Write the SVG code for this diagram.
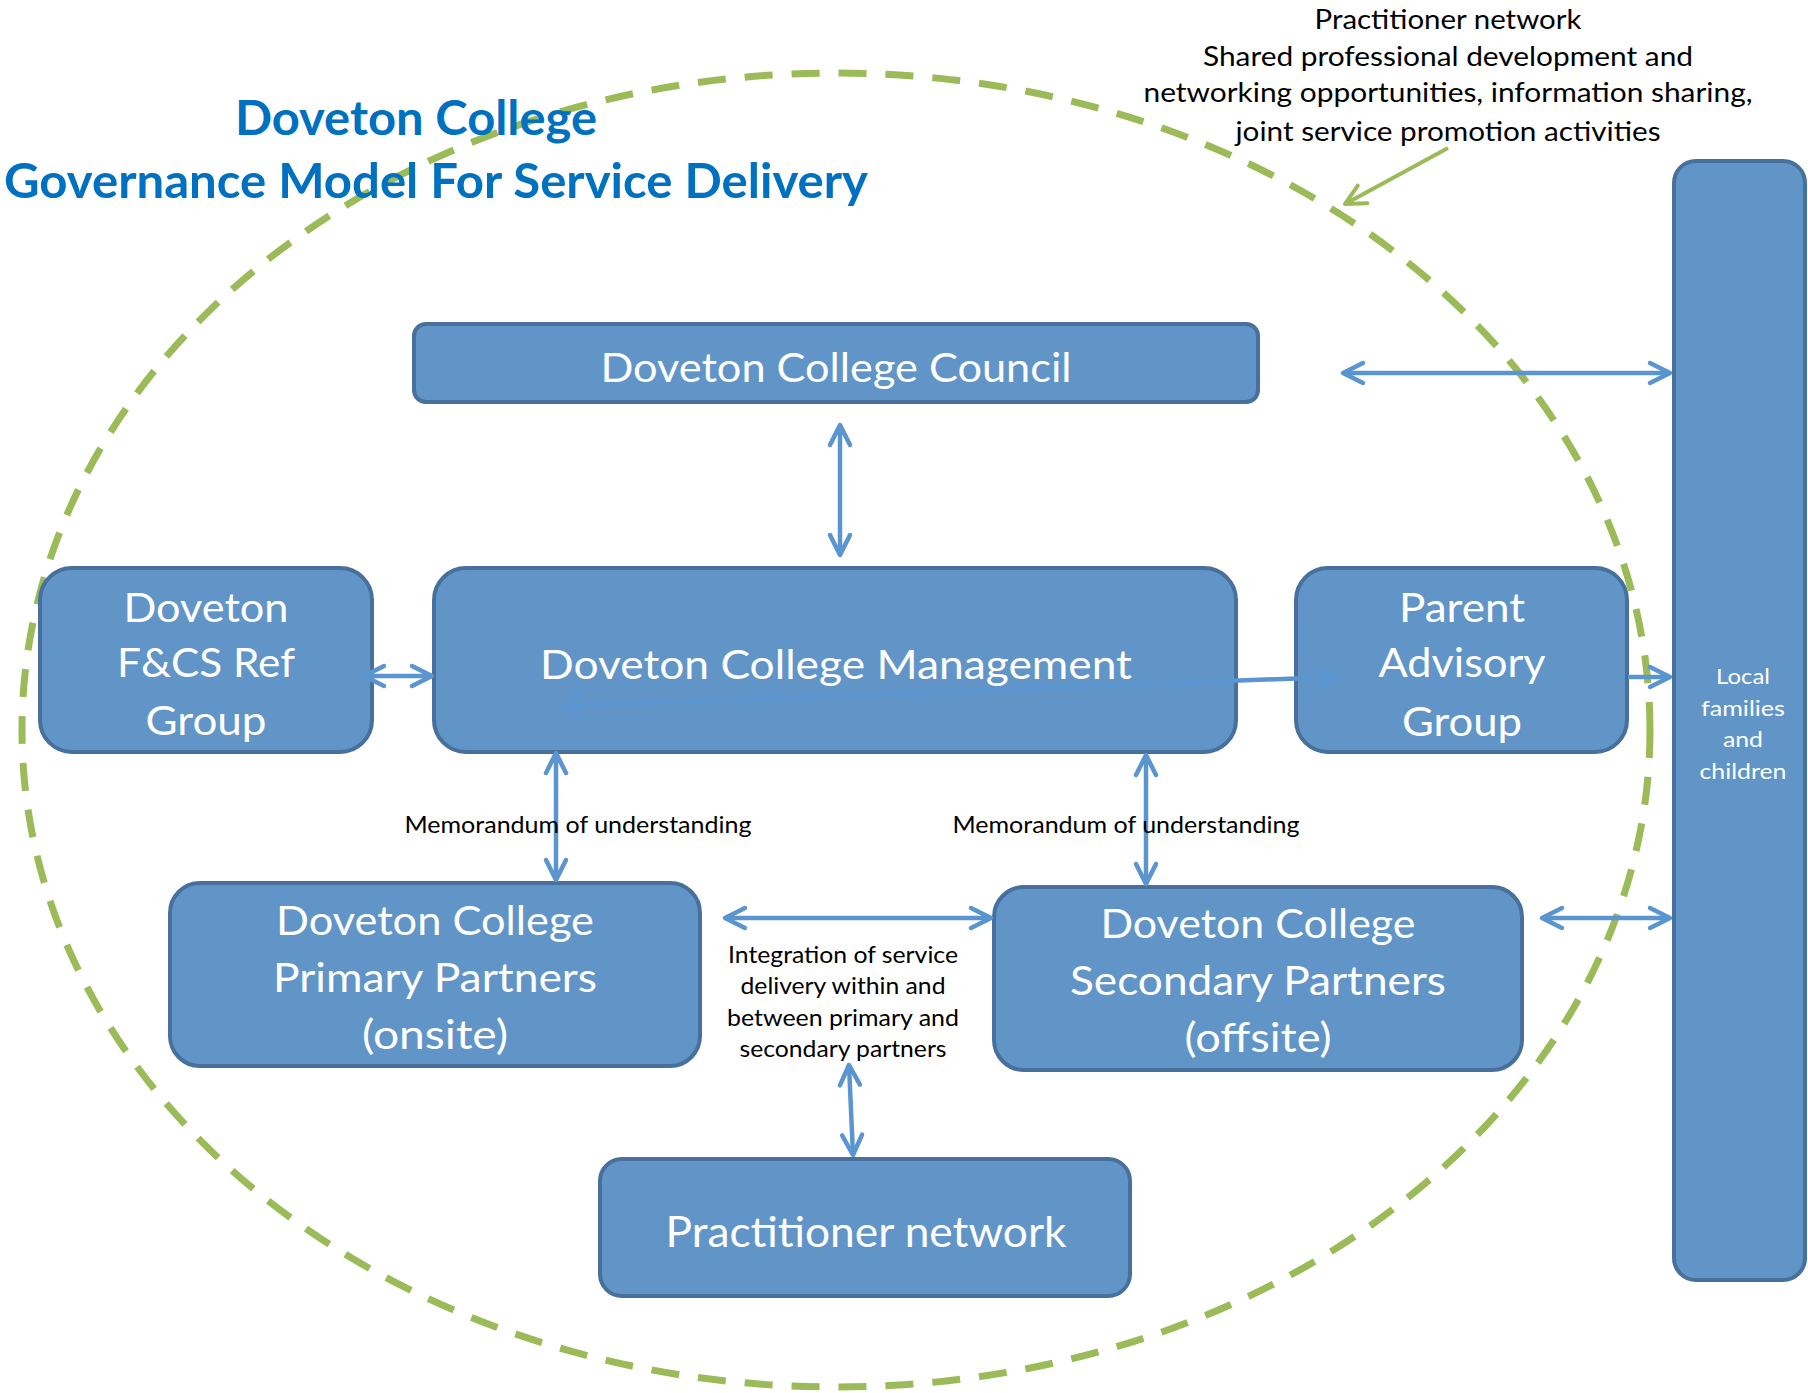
<svg xmlns="http://www.w3.org/2000/svg" width="1808" height="1393" viewBox="0 0 1808 1393">
<style>
.node rect{fill:#6195C8;stroke:#47709C;stroke-width:4}
.nt{font-family:Lato,"Liberation Sans",sans-serif;fill:#fff;text-anchor:middle;font-size:40px}
.lbl{font-family:Lato,"Liberation Sans",sans-serif;fill:#000;text-anchor:middle;font-size:23px}
.ttl{font-family:Lato,"Liberation Sans",sans-serif;fill:#0070C0;text-anchor:middle;font-size:47px;font-weight:bold}
.con{fill:none;stroke:#5B95D0;stroke-width:4.5;marker-start:url(#ah);marker-end:url(#ah)}
</style>
<defs>
<marker id="ah" viewBox="-26 -14 30 28" refX="0" refY="0" markerWidth="30" markerHeight="28" markerUnits="userSpaceOnUse" orient="auto-start-reverse">
<path d="M-20,-10 L0,0 L-20,10" fill="none" stroke="#5B95D0" stroke-width="4.5" stroke-linecap="round" stroke-linejoin="round"/>
</marker>
<marker id="gh" viewBox="-26 -14 30 28" refX="0" refY="0" markerWidth="30" markerHeight="28" markerUnits="userSpaceOnUse" orient="auto">
<path d="M-20,-10 L0,0 L-20,10" fill="none" stroke="#9BBB59" stroke-width="4" stroke-linecap="round" stroke-linejoin="round"/>
</marker>
</defs>
<rect width="1808" height="1393" fill="#fff"/>
<g id="boundary">
<ellipse cx="836" cy="730" rx="814" ry="657" fill="none" stroke="#9BBB59" stroke-width="7" stroke-dasharray="28 19"/>
</g>
<g id="title">
<text class="ttl" x="416" y="135" textLength="362" lengthAdjust="spacingAndGlyphs">Doveton College</text>
<text class="ttl" x="436" y="198" textLength="864" lengthAdjust="spacingAndGlyphs">Governance Model For Service Delivery</text>
</g>
<g id="practitioner-note">
<text class="lbl" style="font-size:27px" x="1448" y="29" textLength="267" lengthAdjust="spacingAndGlyphs">Practitioner network</text>
<text class="lbl" style="font-size:27px" x="1448" y="66" textLength="490" lengthAdjust="spacingAndGlyphs">Shared professional development and</text>
<text class="lbl" style="font-size:27px" x="1448" y="102" textLength="609" lengthAdjust="spacingAndGlyphs">networking opportunities, information sharing,</text>
<text class="lbl" style="font-size:27px" x="1448" y="141" textLength="425" lengthAdjust="spacingAndGlyphs">joint service promotion activities</text>
<line x1="1448" y1="148" x2="1345" y2="204" stroke="#9BBB59" stroke-width="4" marker-end="url(#gh)"/>
</g>
<g id="council" class="node">
<rect x="414" y="324" width="844" height="78" rx="12"/>
<text class="nt" x="836" y="382" textLength="471" lengthAdjust="spacingAndGlyphs">Doveton College Council</text>
</g>
<g id="management" class="node">
<rect x="434" y="568" width="802" height="184" rx="32"/>
<text class="nt" x="836" y="679" textLength="592" lengthAdjust="spacingAndGlyphs">Doveton College Management</text>
</g>
<g id="fcs-ref-group" class="node">
<rect x="40" y="568" width="332" height="184" rx="32"/>
<text class="nt" x="206" y="622" textLength="165" lengthAdjust="spacingAndGlyphs">Doveton</text>
<text class="nt" x="206" y="677" textLength="178" lengthAdjust="spacingAndGlyphs">F&amp;CS Ref</text>
<text class="nt" x="206" y="735" textLength="121" lengthAdjust="spacingAndGlyphs">Group</text>
</g>
<g id="parent-advisory" class="node">
<rect x="1296" y="568" width="331" height="184" rx="32"/>
<text class="nt" x="1462" y="622" textLength="126" lengthAdjust="spacingAndGlyphs">Parent</text>
<text class="nt" x="1462" y="677" textLength="167" lengthAdjust="spacingAndGlyphs">Advisory</text>
<text class="nt" x="1462" y="736" textLength="120" lengthAdjust="spacingAndGlyphs">Group</text>
</g>
<g id="local-families" class="node">
<rect x="1674" y="161" width="131" height="1119" rx="22"/>
<text class="nt" style="font-size:21px" x="1743" y="684" textLength="54" lengthAdjust="spacingAndGlyphs">Local</text>
<text class="nt" style="font-size:21px" x="1743" y="716" textLength="84" lengthAdjust="spacingAndGlyphs">families</text>
<text class="nt" style="font-size:21px" x="1743" y="747" textLength="40" lengthAdjust="spacingAndGlyphs">and</text>
<text class="nt" style="font-size:21px" x="1743" y="779" textLength="87" lengthAdjust="spacingAndGlyphs">children</text>
</g>
<g id="primary-partners" class="node">
<rect x="170" y="883" width="530" height="183" rx="30"/>
<text class="nt" x="435" y="935" textLength="318" lengthAdjust="spacingAndGlyphs">Doveton College</text>
<text class="nt" x="435" y="992" textLength="324" lengthAdjust="spacingAndGlyphs">Primary Partners</text>
<text class="nt" x="435" y="1049" textLength="146" lengthAdjust="spacingAndGlyphs">(onsite)</text>
</g>
<g id="secondary-partners" class="node">
<rect x="994" y="887" width="528" height="183" rx="30"/>
<text class="nt" x="1258" y="938" textLength="315" lengthAdjust="spacingAndGlyphs">Doveton College</text>
<text class="nt" x="1258" y="995" textLength="376" lengthAdjust="spacingAndGlyphs">Secondary Partners</text>
<text class="nt" x="1258" y="1052" textLength="147" lengthAdjust="spacingAndGlyphs">(offsite)</text>
</g>
<g id="practitioner-network" class="node">
<rect x="600" y="1159" width="530" height="137" rx="22"/>
<text class="nt" style="font-size:42px" x="866" y="1247" textLength="401" lengthAdjust="spacingAndGlyphs">Practitioner network</text>
</g>
<g id="connectors">
<line class="con" x1="840" y1="425" x2="840" y2="555"/>
<line class="con" x1="1343" y1="373" x2="1670" y2="373"/>
<line class="con" x1="364" y1="676" x2="432" y2="676"/>
<line class="con" x1="560" y1="706" x2="1335" y2="677"/>
<line class="con" x1="1628" y1="677" x2="1670" y2="677" style="marker-start:none"/>
<line class="con" x1="556" y1="753" x2="556" y2="880"/>
<line class="con" x1="1146" y1="755" x2="1146" y2="884"/>
<line class="con" x1="725" y1="918" x2="991" y2="918"/>
<line class="con" x1="1542" y1="918" x2="1670" y2="918"/>
<line class="con" x1="849" y1="1065" x2="853" y2="1155"/>
</g>
<g id="labels">
<text class="lbl" x="578" y="833" textLength="347" lengthAdjust="spacingAndGlyphs">Memorandum of understanding</text>
<text class="lbl" x="1126" y="833" textLength="347" lengthAdjust="spacingAndGlyphs">Memorandum of understanding</text>
<text class="lbl" x="843" y="963" textLength="230" lengthAdjust="spacingAndGlyphs">Integration of service</text>
<text class="lbl" x="843" y="994" textLength="205" lengthAdjust="spacingAndGlyphs">delivery within and</text>
<text class="lbl" x="843" y="1026" textLength="232" lengthAdjust="spacingAndGlyphs">between primary and</text>
<text class="lbl" x="843" y="1057" textLength="207" lengthAdjust="spacingAndGlyphs">secondary partners</text>
</g>
</svg>
